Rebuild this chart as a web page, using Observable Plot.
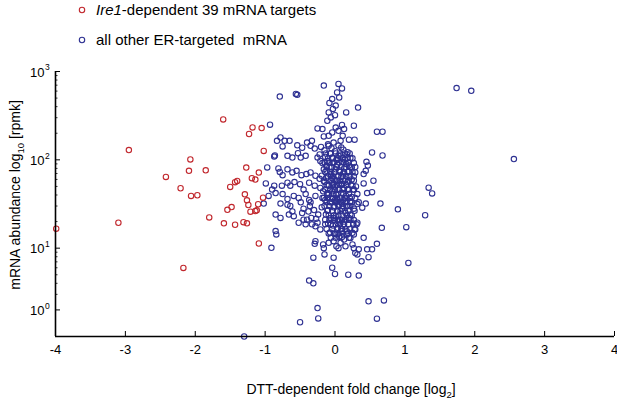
<!DOCTYPE html>
<html><head><meta charset="utf-8">
<script src="https://cdn.jsdelivr.net/npm/d3@7"></script>
<script src="https://cdn.jsdelivr.net/npm/@observablehq/plot@0.6"></script>
<style>
body{margin:0;background:#fff;font-family:"Liberation Sans",Arial,Helvetica,sans-serif}
#chart{width:617px;height:401px}
</style>
</head><body><div id="chart"></div>
<script>
// DTT-dependent fold change [log2], mRNA abundance [rpmk]
const ire1Points = [
[-3.99,16.6],[-2.95,129],[-3.10,19.4],[-2.17,5.97],[-2.42,64],[-2.21,47.7],[-2.07,101],[-2.09,75],
[-2.06,39],[-1.97,39.7],[-1.85,76],[-1.80,22.3],[-1.60,287],[-1.59,19.1],[-1.54,27.2],[-1.48,29.2],
[-1.50,49.3],[-1.43,55.8],[-1.40,57.7],[-1.43,18.4],[-1.31,19.7],[-1.26,19.1],[-1.29,40.7],[-1.27,81.8],
[-1.26,34.8],[-1.24,30.8],[-1.23,196],[-1.18,233],[-1.21,25.9],[-1.19,62],[-1.14,59.7],[-1.14,26.3],
[-1.12,26.8],[-1.10,31.4],[-1.09,71.7],[-1.09,11.3],[-1.05,229],[-1.03,37.3],[-1.02,126]
];
const otherPoints = [
// upper-left part
[-0.16,693],[-0.79,520],[-0.56,558],[-0.54,545],[-0.93,250],[-0.25,227],[-0.18,223],[-0.16,184],[-0.78,179],[-0.72,164],[-0.65,164],[-0.83,164],[-0.75,142],[-0.54,146],[-0.47,137],[-0.40,157],[-0.35,144],[-0.29,134],[-0.33,164],[-0.86,112],[-0.87,109],[-0.68,111],[-0.61,106],[-0.53,119],[-0.49,106],[-0.42,111],[-0.25,106],[-0.21,97],[-0.97,82],[-0.81,80],[-0.79,73],[-0.75,67],[-0.68,78],[-0.61,72],[-0.55,75],[-0.48,67],[-0.41,69],[-0.35,72],[-0.28,66],[-0.22,61],[-0.12,75],[-0.06,66],[-0.02,60],[-0.99,54],[-0.87,51],[-0.90,46],[-0.76,51],[-0.68,55],[-0.64,51],[-0.58,56],[-0.50,53],[-0.45,46],[-0.37,55],[-0.29,51],[-0.21,48],[-0.09,51],[-0.02,46],[-0.95,39],[-0.85,42],[-0.75,41],[-0.68,36],[-0.59,39],[-0.52,37],[-0.42,41],[-0.37,35],[-0.28,39],[-0.18,37],[-0.11,42],[-0.04,36],[-1.02,32],[-0.78,32],[-0.68,31],[-0.49,33],[-0.35,33],
// upper-right part
[0.05,724],[0.10,643],[0.03,580],[0.06,508],[-0.04,487],[-0.08,440],[0.01,411],[-0.03,377],[-0.09,344],[-0.06,302],[0.00,320],[-0.11,277],[0.16,344],[0.33,390],[0.27,243],[0.10,248],[0.13,223],[0.05,213],[0.01,232],[-0.04,204],[-0.09,187],[0.11,187],[0.08,164],[0.20,169],[0.28,169],[0.60,208],[0.68,208],[-0.02,157],[-0.09,144],[0.09,138],[0.17,115],[0.05,111],[-0.04,106],[-0.11,97],[0.53,121],[0.68,112],[0.27,92],[0.20,86],[0.13,80],[0.45,95],[0.47,86],[0.29,72],[0.41,69],[0.44,75],[0.55,58],[0.01,78],[-0.06,69],[0.05,66],[0.15,60],[-0.04,55],[0.10,53],[0.25,51],[0.27,46],[0.41,54],[0.32,41],[0.46,42],[0.53,43],[0.15,37],[0.22,34],[0.03,36],[0.34,33],[0.44,32],[0.65,32],
// lower-left part
[-0.64,30],[-0.66,24],[-0.59,23],[-0.61,26],[-0.47,25],[-0.85,24],[-0.78,22],[-0.40,21],[-0.33,18.6],[-0.42,18.6],[-0.25,19.4],[-0.52,19.4],[-0.21,16.3],[-0.28,17.7],[-0.14,18.6],[-0.85,15.6],[-0.84,14.3],[-0.91,10.1],[-0.28,12],[-0.29,11.2],[-0.17,11],[-0.16,10.0],[-0.15,8.5],[-0.31,7.8],[-0.06,13.1],[-0.09,11.5],[-0.02,7.8],[-0.04,6.0],[0.00,5.1],[-0.37,4.3],[-0.31,4.0],[-0.25,2.1],[-0.24,1.6],[-0.50,1.45],[-1.30,1.0],
[-0.45,28],[-0.38,26],[-0.30,27],[-0.24,24],[-0.34,22],[-0.27,21.5],[-0.45,21],[-0.36,30],
// lower-right part
[0.90,27.5],[0.39,28.7],[0.67,17],[1.02,17.3],[0.32,19.4],[0.29,16.3],[0.27,14.3],[0.20,13.1],[0.10,13.4],[0.01,13.1],[0.41,13.1],[0.60,11.2],[0.53,9.7],[0.46,9.7],[0.34,9.7],[0.27,10.0],[0.25,11.0],[0.15,10.5],[0.05,10.0],[0.29,8.8],[0.32,8.5],[0.48,7.9],[0.38,7.1],[0.19,5.0],[0.34,4.9],[1.05,6.8],[0.48,2.5],[0.70,2.56],[0.60,1.59],
[0.01,34],[0.10,32],[0.22,33],[0.32,31.6],[-0.02,22],[0.05,20],[0.12,18.6],[0.20,22],[0.27,20.8],[0.31,18.6],[0.02,14.3],[0.10,15.6],[0.17,14.3],[0.25,14.9],[0.28,16.3],
// outliers
[1.29,23.6],[1.34,48.4],[1.39,41.7],[1.74,650],[1.95,605],[2.56,102],
// dense core
[-0.20,140],[-0.15,128],[-0.10,150],[-0.05,135],[0.00,125],[0.05,145],[0.12,130],[0.18,122],
[-0.22,115],[-0.14,108],[-0.07,118],[0.02,100],[0.08,112],[0.14,100],[0.22,105],
[-0.18,92],[-0.12,86],[-0.03,92],[0.03,88],[0.10,95],[0.16,90],[0.24,82],
[-0.16,78],[-0.08,82],[-0.01,72],[0.06,76],[0.12,70],[0.20,74],[0.27,65],
[-0.19,66],[-0.13,62],[-0.04,62],[0.03,58],[0.09,64],[0.18,56],[0.24,60],
[-0.15,56],[-0.09,52],[0.00,50],[0.06,54],[0.13,48],[0.20,46],[0.30,50],
[-0.17,44],[-0.11,40],[-0.04,44],[0.02,40],[0.09,42],[0.16,39],[0.24,38],
[-0.14,35],[-0.07,33],[0.00,35],[0.06,31],[0.12,35],[0.19,30],[0.27,28],
[-0.19,29],[-0.10,27],[-0.02,29],[0.04,26],[0.10,28],[0.15,25],[0.22,24],
[-0.13,24],[-0.06,22],[0.01,23],[0.07,21],[0.13,20],[0.20,21],[0.26,19],
[-0.10,19],[-0.03,18],[0.04,17],[0.10,16.5],[0.17,15.5],
[-0.07,15],[0.00,14.5],[0.06,13.5],[0.13,12.5],[0.22,13],
[-0.02,12],[0.08,11.5],[0.02,10.5],
[-0.13,118],[-0.06,118],[0.01,118],[0.07,118],[0.14,118],[0.21,118],
[-0.10,104],[-0.03,104],[0.04,104],[0.11,104],[0.18,104],[0.25,104],
[-0.15,93],[-0.08,93],[-0.01,93],[0.06,93],[0.12,93],[0.19,93],
[-0.12,83],[-0.05,83],[0.02,83],[0.09,83],[0.15,83],[0.22,83],[0.29,83],
[-0.14,73],[-0.07,73],[0.00,73],[0.07,73],[0.13,73],[0.18,73],[0.25,73],
[-0.10,65],[-0.03,65],[0.04,65],[0.11,65],[0.16,65],[0.21,65],
[-0.16,58],[-0.06,58],[0.01,58],[0.07,58],[0.12,58],[0.19,58],[0.27,58],
[-0.12,52],[-0.03,52],[0.03,52],[0.09,52],[0.16,52],[0.23,52],
[-0.14,46],[-0.07,46],[0.00,46],[0.05,46],[0.11,46],[0.18,46],[0.26,46],
[-0.09,41],[-0.02,41],[0.04,41],[0.12,41],[0.20,41],
[-0.16,37],[-0.10,37],[-0.03,37],[0.03,37],[0.08,37],[0.14,37],[0.21,37],[0.29,37],
[-0.12,33],[-0.05,33],[0.02,33],[0.09,33],[0.15,33],[0.24,33],
[-0.15,30],[-0.08,30],[-0.01,30],[0.05,30],[0.11,30],[0.17,30],[0.22,30],
[-0.11,26.5],[-0.04,26.5],[0.03,26.5],[0.08,26.5],[0.14,26.5],[0.19,26.5],[0.28,26.5],
[-0.09,23.5],[-0.02,23.5],[0.05,23.5],[0.11,23.5],[0.17,23.5],[0.24,23.5],
[-0.14,21],[-0.08,21],[-0.01,21],[0.04,21],[0.10,21],[0.16,21],[0.22,21],
[-0.06,18.5],[0.01,18.5],[0.07,18.5],[0.13,18.5],[0.19,18.5],[0.26,18.5],
[-0.12,16.5],[-0.04,16.5],[0.03,16.5],[0.09,16.5],[0.15,16.5],[0.21,16.5],
[-0.09,14.7],[-0.01,14.7],[0.05,14.7],[0.11,14.7],[0.19,14.7]
];
const xTicks = [-4,-3,-2,-1,0,1,2,3,4];
const yMajorTicks = [2,10,100,1000];
const yMajorExponents = ["0","1","2","3"];
const yMinorTicks = [3,4,5,6,7,8,9,20,30,40,50,60,70,80,90,200,300,400,500,600,700,800,900];

const red = "#c1272d", blue = "#2e3192";
const W = 617, H = 401, mL = 55, mR = 3, mT = 71, mB = 65;
const frameW = W - mL - mR, frameH = H - mT - mB;
const font = '"Liberation Sans", Arial, Helvetica, sans-serif';

const svg = Plot.plot({
  width: W, height: H,
  marginLeft: mL, marginRight: mR, marginTop: mT, marginBottom: mB,
  style: {fontFamily: font, background: "#fff", overflow: "visible"},
  x: {domain: [-4, 4], axis: null},
  y: {type: "log", domain: [1, 1000], axis: null},
  marks: [
    Plot.dot(otherPoints, {x: d => d[0], y: d => d[1], r: 2.7, stroke: blue, strokeWidth: 1.1, fill: "none"}),
    Plot.dot(ire1Points, {x: d => d[0], y: d => d[1], r: 2.7, stroke: red, strokeWidth: 1.1, fill: "none"}),
    // ticks (inward)
    Plot.ruleX(xTicks.slice(1), {x: d => d, insetTop: frameH - 5, stroke: "#000", strokeWidth: 1}),
    Plot.ruleY(yMajorTicks, {y: d => d, insetRight: frameW - 5, stroke: "#000", strokeWidth: 1}),
    Plot.ruleY(yMinorTicks, {y: d => d, insetRight: frameW - 2.5, stroke: "#000", strokeWidth: 0.8}),
    // spines
    Plot.ruleX([-4], {stroke: "#000", strokeWidth: 1.6}),
    Plot.ruleY([1], {stroke: "#000", strokeWidth: 1.6}),
    // tick labels
    Plot.text(xTicks, {x: d => d, text: d => String(d), frameAnchor: "bottom", dy: 17, fontSize: 13, fill: "#000"}),
    Plot.text(yMajorTicks, {y: d => d, text: () => "10", frameAnchor: "left", textAnchor: "end", dx: -11, dy: 1, fontSize: 13, fill: "#000"}),
    Plot.text(yMajorTicks, {y: d => d, text: (d, i) => yMajorExponents[i], frameAnchor: "left", textAnchor: "start", dx: -10.5, dy: -4, fontSize: 8.5, fill: "#000"})
  ]
});
document.getElementById("chart").appendChild(svg);

const s = d3.select(svg);
// x title
const xt = s.append("text").attr("x", 351).attr("y", 394).attr("text-anchor", "middle")
  .attr("font-size", 14).attr("font-family", font).attr("fill", "#000");
xt.append("tspan").text("DTT-dependent fold change [log");
xt.append("tspan").attr("dy", 4).attr("font-size", 9.5).text("2");
xt.append("tspan").attr("dy", -4).text("]");
// y title
const yt = s.append("text").attr("transform", "translate(20,195) rotate(-90)").attr("text-anchor", "middle")
  .attr("font-size", 14).attr("font-family", font).attr("fill", "#000");
yt.append("tspan").text("mRNA abundance log");
yt.append("tspan").attr("dy", 4).attr("font-size", 9.5).text("10");
yt.append("tspan").attr("dy", -4).text(" [rpmk]");
// legend
const legend = [
  {color: red, y: 10, parts: [["Ire1", true], ["-dependent 39 mRNA targets", false]]},
  {color: blue, y: 40, parts: [["all other ER-targeted  mRNA", false]]}
];
legend.forEach(l => {
  s.append("circle").attr("cx", 82).attr("cy", l.y).attr("r", 2.7).attr("fill", "none")
    .attr("stroke", l.color).attr("stroke-width", 1.1);
  const t = s.append("text").attr("x", 96).attr("y", l.y).attr("dy", "0.36em").attr("text-anchor", "start")
    .attr("font-size", 15).attr("font-family", font).attr("fill", "#000").style("white-space", "pre");
  l.parts.forEach(([txt, it]) => t.append("tspan").attr("font-style", it ? "italic" : "normal").text(txt));
});
</script>
</body></html>
